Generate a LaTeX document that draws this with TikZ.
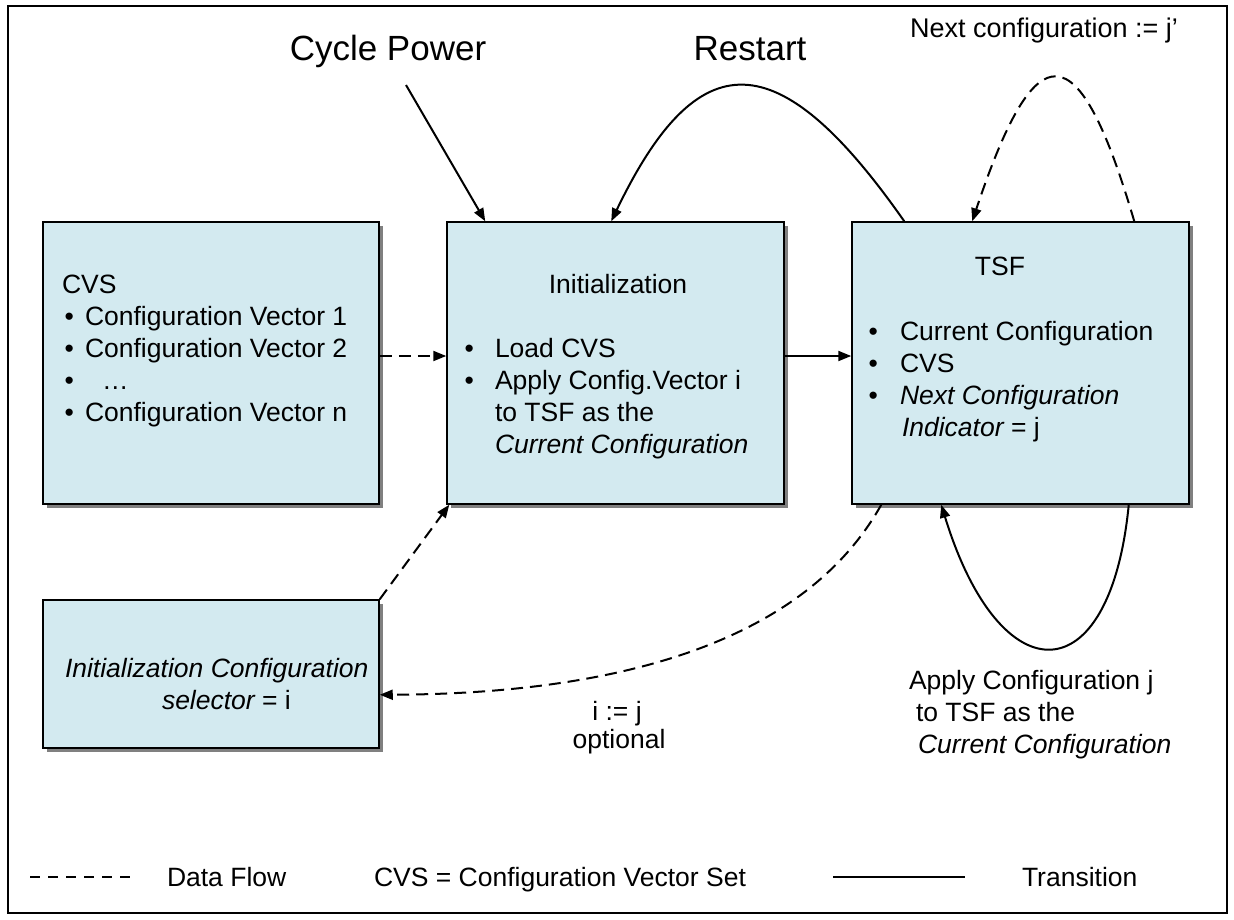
\documentclass[tikz,border=0pt]{standalone}
\usepackage{fontspec}
\setmainfont{Liberation Sans}
\usetikzlibrary{arrows.meta,shadows,calc}
\definecolor{boxfill}{RGB}{211,234,240}
\definecolor{shadowgray}{RGB}{128,128,128}
\tikzset{
  box/.style={draw=black, line width=1.5pt, fill=boxfill, inner sep=0pt,
    drop shadow={shadow xshift=4pt, shadow yshift=-4pt, fill=shadowgray, opacity=1}},
  txt/.style={inner sep=0pt, outer sep=0pt, anchor=base west, font=\fontsize{26.5}{32}\selectfont},
  ttl/.style={inner sep=0pt, anchor=base, font=\fontsize{35}{40}\selectfont},
  trans/.style={line width=2pt, -{Triangle[length=13pt,width=10pt]}},
  flow/.style={line width=2pt, dash pattern=on 12pt off 7pt, -{Triangle[length=13pt,width=10pt]}},
}
\newcommand{\bitem}[5]{%
  \node[txt] (#1-b) at (#2,#4) {\textbullet};
  \node[txt] (#1-t) at (#3,#4) {#5};}
\begin{document}
\begin{tikzpicture}[x=1pt,y=-1pt]
\useasboundingbox (0,0) rectangle (1234,919);
\draw[line width=2pt] (8,6) rectangle (1227,913);

% boxes
\node[box, minimum width=336pt, minimum height=282pt] (cvs) at (211,363) {};
\node[box, minimum width=337pt, minimum height=282pt] (init) at (615.5,363) {};
\node[box, minimum width=337pt, minimum height=282pt] (tsf) at (1020.5,363) {};
\node[box, minimum width=336pt, minimum height=148pt] (sel) at (211,674) {};

% CVS box text
\node[txt] (cvs-h) at (62,293) {CVS};
\bitem{c1}{64.5}{85}{325}{Configuration Vector 1}
\bitem{c2}{64.5}{85}{357}{Configuration Vector 2}
\bitem{c3}{64.5}{102}{389}{\dots}
\bitem{c4}{64.5}{85}{421}{Configuration Vector n}

% Initialization box text
\node[txt, anchor=base] (init-h) at (618,293) {Initialization};
\bitem{i1}{464.5}{495}{357}{Load CVS}
\bitem{i2}{464.5}{495}{389}{Apply Config.Vector i}
\node[txt] (i3) at (495,421) {to TSF as the};
\node[txt] (i4) at (495,453) {\itshape Current Configuration};

% TSF box text
\node[txt, anchor=base] (tsf-h) at (1000,275) {TSF};
\bitem{t1}{868.5}{900}{340}{Current Configuration}
\bitem{t2}{868.5}{900}{372}{CVS}
\bitem{t3}{868.5}{900}{404}{\itshape Next Configuration}
\node[txt] (t4) at (902,436) {\itshape Indicator\upshape{} = j};

% selector box text
\node[txt] (s1) at (65,677) {\itshape Initialization Configuration};
\node[txt] (s2) at (162,709) {\itshape selector\upshape{} = i};

% titles
\node[ttl] (cyclepower) at (388,60) {Cycle Power};
\node[ttl] (restart) at (750,60) {Restart};
\node[txt, anchor=base, font=\fontsize{27}{32}\selectfont] (nextcfg) at (1044,37) {Next configuration := j’};

% labels
\node[txt, anchor=base] (ij) at (617,720) {i := j};
\node[txt, anchor=base] (opt) at (619,748) {optional};
\node[txt] (ap1) at (909,689) {Apply Configuration j};
\node[txt] (ap2) at (916,721) {to TSF as the};
\node[txt] (ap3) at (918,753) {\itshape Current Configuration};

% connectors
\coordinate (cpstart) at (406,85);
\draw[trans] (cpstart) -- ($(init.north west)+(39,0)$);
\draw[trans] ($(tsf.north west)+(53,0)$) .. controls (778,41) and (698,41) .. ($(init.north west)+(165,0)$);
\draw[flow] ($(tsf.north west)+(283,0)$) .. controls (1078,30) and (1036,30) .. ($(tsf.north west)+(121,0)$);
\draw[trans] ($(init.east)+(0,-7)$) -- ($(tsf.west)+(0,-7)$);
\draw[flow] ($(cvs.east)+(0,-7)$) -- ($(init.west)+(0,-7)$);
\draw[flow] (sel.north east) -- ($(init.south west)+(3,0)$);
\draw[flow] ($(tsf.south west)+(30,0)$) .. controls (800,650) and (600,694) .. ($(sel.south east)+(0,-54)$);
\draw[trans] ($(tsf.south east)+(-61,0)$) .. controls (1110,696) and (1000,696) .. ($(tsf.south west)+(90,0)$);

% legend
\coordinate (lg1a) at (30,877);
\coordinate (lg1b) at (131,877);
\draw[line width=1.8pt, dash pattern=on 10pt off 8pt] (lg1a) -- (lg1b);
\node[txt, anchor=base west] (lgdf) at (167,886) {Data Flow};
\node[txt, anchor=base west] (lgcvs) at (374,886) {CVS = Configuration Vector Set};
\coordinate (lg2a) at (833,877);
\coordinate (lg2b) at (965,877);
\draw[line width=1.8pt] (lg2a) -- (lg2b);
\node[txt, anchor=base west] (lgtr) at (1022,886) {Transition};
\end{tikzpicture}
\end{document}
